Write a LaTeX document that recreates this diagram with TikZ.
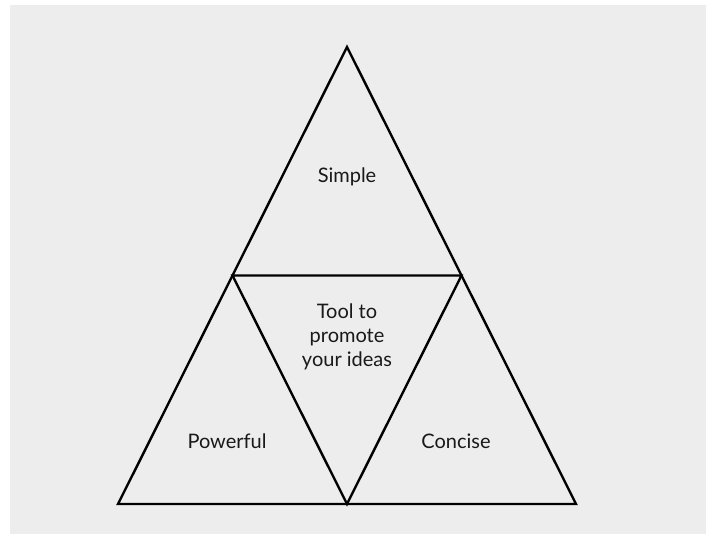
\documentclass[tikz,border=0pt]{standalone}
\usepackage{fontspec}
\setmainfont{Lato}
\usetikzlibrary{positioning}

\begin{document}
\begin{tikzpicture}[
    x=1pt, y=1pt,
    edge/.style={draw=black, line width=2.4pt, line join=miter},
    word/.style={font=\fontsize{20}{24}\selectfont, text=black!90, align=center, inner sep=0pt}
]
\useasboundingbox (0,0) rectangle (711,534);
\fill[black!7] (10,0) rectangle (706,529);
% corners of the big triangle and the midpoints of its sides
\coordinate (top) at (347,487);
\coordinate (bl) at (118,30);
\coordinate (br) at (576,30);
\coordinate (bm) at (347,30);
\coordinate (ml) at (232.5,258.5);
\coordinate (mr) at (461.5,258.5);
\draw[edge] (top)--(bl)--(br)--cycle;
\draw[edge] (ml)--(mr)--(bm)--cycle;
\node[word] (simple) at (347,357) {Simple};
\node[word] (tool) at (347,197) {Tool to\\promote\\your ideas};
\node[word] (powerful) at (227,93) {Powerful};
\node[word] (concise) at (456,93) {Concise};
\end{tikzpicture}
\end{document}
